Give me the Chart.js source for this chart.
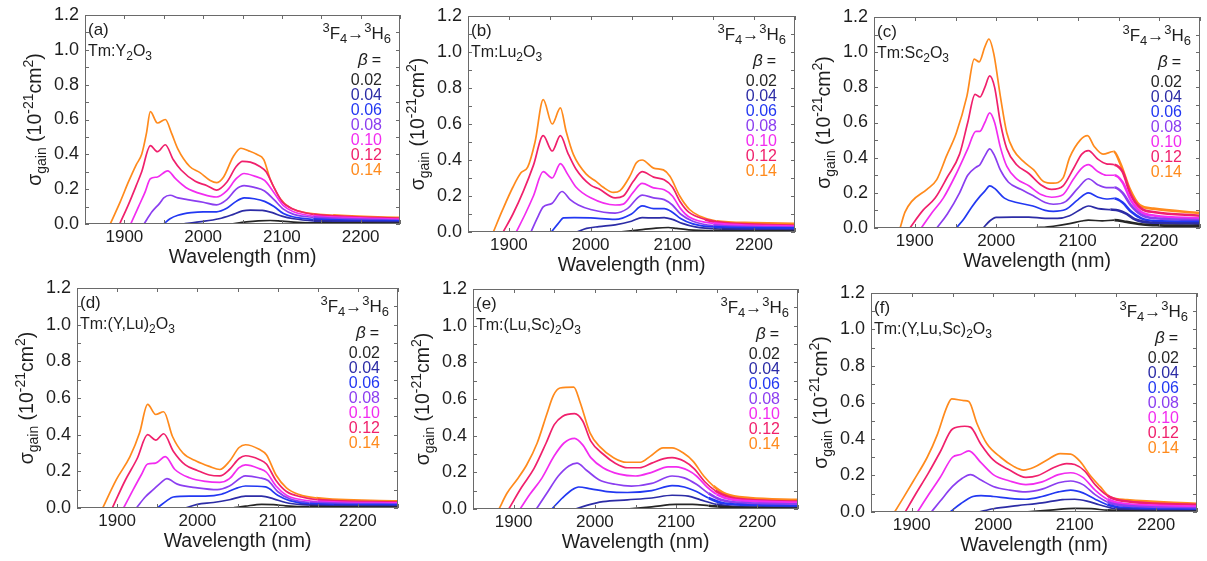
<!DOCTYPE html>
<html>
<head>
<meta charset="utf-8">
<script src="https://cdn.jsdelivr.net/npm/chart.js@4.4.1/dist/chart.umd.min.js"></script>
<style>
  html, body { margin: 0; padding: 0; background: #fff; }
  body { width: 1207px; height: 561px; position: relative; overflow: hidden; }
  canvas { position: absolute; }
</style>
</head>
<body>
<script>
// beta values shared by every panel
const betas = ['0.02', '0.04', '0.06', '0.08', '0.10', '0.12', '0.14'];
const tags = ['(a)', '(b)', '(c)', '(d)', '(e)', '(f)'];
const hosts = ['Tm:Y_{2}O_{3}', 'Tm:Lu_{2}O_{3}', 'Tm:Sc_{2}O_{3}',
  'Tm:(Y,Lu)_{2}O_{3}', 'Tm:(Lu,Sc)_{2}O_{3}', 'Tm:(Y,Lu,Sc)_{2}O_{3}'];
const xTicks = [1900, 2000, 2100, 2200];
const yTicks = [0, 0.2, 0.4, 0.6, 0.8, 1.0, 1.2];

// gain cross-sections [wavelength nm, sigma 1e-21 cm2], one list per beta (0.02 .. 0.14)
const gainY2O3 = [
  [[2035,0],[2055,0.012],[2070,0.018],[2085,0.02],[2100,0.016],[2120,0.01],[2150,0.006],[2200,0.004],[2250,0.003]],
  [[1975,0],[1990,0.01],[2000,0.015],[2020,0.03],[2035,0.05],[2050,0.075],[2060,0.08],[2075,0.078],[2088,0.065],[2100,0.045],[2115,0.03],[2140,0.018],[2180,0.013],[2250,0.01]],
  [[1950,0],[1958,0.03],[1968,0.05],[1985,0.065],[2000,0.07],[2017,0.07],[2030,0.09],[2042,0.13],[2052,0.15],[2065,0.145],[2078,0.13],[2090,0.1],[2102,0.06],[2115,0.04],[2140,0.027],[2180,0.02],[2250,0.015]],
  [[1925,0],[1935,0.07],[1945,0.12],[1950,0.15],[1958,0.165],[1968,0.15],[1980,0.14],[2000,0.125],[2017,0.11],[2030,0.14],[2042,0.2],[2052,0.22],[2065,0.21],[2078,0.19],[2090,0.14],[2102,0.085],[2115,0.055],[2140,0.038],[2180,0.028],[2250,0.02]],
  [[1908,0],[1918,0.1],[1926,0.18],[1933,0.26],[1942,0.27],[1955,0.305],[1965,0.26],[1978,0.21],[2000,0.17],[2017,0.155],[2030,0.19],[2042,0.26],[2052,0.29],[2065,0.275],[2078,0.25],[2090,0.18],[2102,0.105],[2115,0.07],[2140,0.045],[2180,0.035],[2250,0.025]],
  [[1894,0],[1905,0.11],[1915,0.22],[1922,0.3],[1933,0.45],[1942,0.415],[1952,0.455],[1962,0.37],[1972,0.31],[1990,0.245],[2005,0.22],[2017,0.195],[2030,0.24],[2042,0.33],[2050,0.36],[2060,0.355],[2072,0.33],[2080,0.3],[2090,0.21],[2100,0.13],[2115,0.085],[2140,0.055],[2180,0.042],[2250,0.03]],
  [[1882,0],[1895,0.13],[1905,0.24],[1915,0.34],[1922,0.4],[1928,0.52],[1933,0.645],[1942,0.58],[1952,0.6],[1960,0.52],[1968,0.43],[1983,0.33],[1996,0.295],[2009,0.25],[2017,0.237],[2026,0.27],[2038,0.385],[2048,0.435],[2058,0.42],[2068,0.4],[2077,0.37],[2085,0.26],[2098,0.145],[2110,0.095],[2125,0.07],[2165,0.05],[2250,0.035]]
];
const gainLu2O3 = [
  [[2035,0],[2060,0.012],[2080,0.022],[2095,0.025],[2105,0.02],[2120,0.012],[2150,0.006],[2200,0.004],[2250,0.003]],
  [[1983,0],[1995,0.02],[2010,0.03],[2030,0.04],[2050,0.06],[2063,0.08],[2078,0.078],[2090,0.08],[2100,0.07],[2112,0.048],[2128,0.028],[2160,0.016],[2250,0.01]],
  [[1952,0],[1960,0.045],[1967,0.078],[1980,0.08],[2000,0.078],[2030,0.07],[2050,0.1],[2063,0.145],[2077,0.13],[2090,0.13],[2100,0.11],[2110,0.075],[2125,0.045],[2150,0.028],[2250,0.02]],
  [[1927,0],[1935,0.08],[1942,0.14],[1953,0.16],[1965,0.225],[1975,0.18],[1985,0.15],[2000,0.125],[2030,0.105],[2045,0.13],[2063,0.205],[2077,0.19],[2090,0.18],[2100,0.15],[2110,0.1],[2125,0.06],[2150,0.036],[2250,0.025]],
  [[1909,0],[1920,0.1],[1930,0.2],[1942,0.335],[1953,0.3],[1963,0.38],[1972,0.32],[1982,0.25],[2000,0.19],[2030,0.15],[2040,0.155],[2052,0.22],[2063,0.27],[2077,0.245],[2090,0.235],[2100,0.2],[2110,0.13],[2120,0.085],[2150,0.048],[2250,0.03]],
  [[1893,0],[1905,0.1],[1918,0.23],[1930,0.37],[1942,0.535],[1953,0.45],[1963,0.535],[1972,0.44],[1982,0.35],[2000,0.26],[2010,0.24],[2030,0.19],[2040,0.2],[2052,0.28],[2063,0.335],[2077,0.305],[2090,0.29],[2100,0.25],[2110,0.165],[2120,0.11],[2140,0.07],[2160,0.052],[2250,0.035]],
  [[1881,0],[1892,0.12],[1905,0.25],[1915,0.33],[1923,0.36],[1932,0.5],[1942,0.735],[1953,0.6],[1963,0.69],[1970,0.56],[1979,0.43],[1995,0.32],[2007,0.28],[2015,0.25],[2028,0.22],[2036,0.23],[2048,0.31],[2056,0.385],[2063,0.4],[2077,0.355],[2089,0.345],[2097,0.31],[2109,0.2],[2121,0.125],[2134,0.087],[2154,0.06],[2200,0.05],[2250,0.045]]
];
const gainSc2O3 = [
  [[2046,0],[2070,0.01],[2090,0.025],[2105,0.04],[2113,0.045],[2130,0.04],[2145,0.045],[2160,0.035],[2180,0.02],[2200,0.015],[2250,0.012]],
  [[1984,0],[1992,0.04],[2000,0.06],[2020,0.062],[2040,0.062],[2060,0.055],[2075,0.055],[2090,0.07],[2105,0.11],[2113,0.125],[2125,0.11],[2140,0.105],[2150,0.1],[2160,0.08],[2170,0.05],[2190,0.03],[2250,0.025]],
  [[1951,0],[1960,0.05],[1970,0.12],[1980,0.18],[1986,0.21],[1992,0.24],[1998,0.225],[2010,0.17],[2025,0.145],[2045,0.125],[2060,0.1],[2070,0.095],[2085,0.105],[2100,0.16],[2113,0.2],[2125,0.175],[2135,0.165],[2145,0.168],[2155,0.145],[2165,0.095],[2178,0.055],[2195,0.04],[2250,0.035]],
  [[1927,0],[1940,0.08],[1955,0.2],[1965,0.3],[1975,0.345],[1980,0.36],[1986,0.41],[1992,0.45],[1998,0.41],[2005,0.33],[2015,0.26],[2030,0.22],[2045,0.185],[2060,0.145],[2070,0.135],[2085,0.15],[2100,0.225],[2113,0.28],[2125,0.245],[2135,0.23],[2145,0.23],[2155,0.2],[2165,0.13],[2178,0.075],[2195,0.055],[2250,0.045]],
  [[1908,0],[1920,0.08],[1935,0.17],[1950,0.3],[1965,0.45],[1975,0.55],[1980,0.55],[1986,0.6],[1992,0.655],[1998,0.6],[2005,0.46],[2013,0.35],[2025,0.28],[2040,0.24],[2055,0.19],[2068,0.175],[2082,0.19],[2095,0.28],[2105,0.34],[2113,0.36],[2125,0.32],[2135,0.3],[2145,0.3],[2155,0.26],[2165,0.16],[2178,0.09],[2195,0.07],[2250,0.055]],
  [[1894,0],[1910,0.1],[1925,0.17],[1940,0.29],[1955,0.42],[1965,0.6],[1974,0.76],[1980,0.745],[1986,0.8],[1992,0.865],[1998,0.8],[2005,0.6],[2013,0.45],[2025,0.36],[2040,0.31],[2055,0.245],[2068,0.22],[2082,0.24],[2095,0.34],[2105,0.42],[2113,0.44],[2125,0.39],[2135,0.365],[2145,0.36],[2155,0.32],[2165,0.19],[2178,0.11],[2195,0.09],[2250,0.07]],
  [[1882,0],[1888,0.09],[1896,0.15],[1915,0.22],[1927,0.275],[1939,0.41],[1951,0.54],[1964,0.75],[1973,0.96],[1979,0.945],[1986,1.03],[1991,1.075],[1997,0.99],[2005,0.75],[2013,0.54],[2021,0.445],[2033,0.38],[2046,0.33],[2058,0.265],[2070,0.255],[2082,0.285],[2090,0.4],[2103,0.5],[2112,0.525],[2120,0.465],[2131,0.42],[2144,0.435],[2152,0.37],[2164,0.22],[2176,0.13],[2193,0.11],[2250,0.085]]
];
const gainYLu = [
  [[2044,0],[2060,0.01],[2080,0.02],[2095,0.018],[2110,0.012],[2140,0.006],[2250,0.002]],
  [[1985,0],[2000,0.02],[2020,0.03],[2040,0.045],[2060,0.065],[2080,0.065],[2095,0.05],[2110,0.03],[2130,0.018],[2170,0.012],[2250,0.008]],
  [[1950,0],[1962,0.04],[1970,0.06],[1990,0.065],[2010,0.065],[2030,0.075],[2050,0.11],[2060,0.12],[2085,0.115],[2100,0.07],[2115,0.04],[2140,0.022],[2250,0.015]],
  [[1924,0],[1935,0.06],[1945,0.1],[1955,0.14],[1962,0.16],[1975,0.13],[2000,0.11],[2025,0.1],[2040,0.12],[2060,0.175],[2077,0.165],[2088,0.15],[2100,0.09],[2115,0.05],[2140,0.03],[2250,0.02]],
  [[1908,0],[1920,0.1],[1930,0.18],[1938,0.24],[1948,0.245],[1960,0.28],[1972,0.21],[1990,0.165],[2010,0.145],[2028,0.14],[2040,0.16],[2052,0.22],[2060,0.235],[2077,0.215],[2086,0.195],[2098,0.12],[2111,0.07],[2130,0.045],[2150,0.035],[2250,0.025]],
  [[1894,0],[1910,0.15],[1925,0.27],[1938,0.4],[1948,0.37],[1958,0.405],[1970,0.31],[1985,0.235],[2000,0.205],[2015,0.18],[2028,0.175],[2040,0.21],[2052,0.27],[2060,0.285],[2077,0.265],[2086,0.24],[2098,0.15],[2111,0.09],[2130,0.06],[2150,0.045],[2250,0.03]],
  [[1882,0],[1899,0.155],[1916,0.28],[1928,0.41],[1938,0.565],[1948,0.51],[1958,0.525],[1969,0.39],[1982,0.3],[1999,0.255],[2015,0.227],[2028,0.21],[2040,0.255],[2052,0.33],[2060,0.345],[2077,0.32],[2086,0.29],[2098,0.18],[2111,0.11],[2127,0.073],[2148,0.055],[2250,0.036]]
];
const gainLuSc = [
  [[2039,0],[2070,0.012],[2100,0.025],[2120,0.025],[2140,0.018],[2160,0.01],[2250,0.003]],
  [[1976,0],[1990,0.02],[2010,0.04],[2040,0.05],[2070,0.06],[2095,0.075],[2115,0.07],[2130,0.05],[2150,0.025],[2170,0.012],[2250,0.005]],
  [[1947,0],[1960,0.06],[1972,0.105],[1980,0.12],[1995,0.11],[2015,0.095],[2040,0.09],[2070,0.1],[2095,0.128],[2110,0.12],[2125,0.095],[2140,0.06],[2160,0.03],[2250,0.015]],
  [[1928,0],[1940,0.08],[1955,0.18],[1968,0.235],[1978,0.25],[1990,0.21],[2005,0.16],[2025,0.135],[2045,0.125],[2070,0.14],[2095,0.18],[2110,0.17],[2125,0.135],[2140,0.085],[2155,0.05],[2175,0.035],[2250,0.025]],
  [[1908,0],[1920,0.08],[1935,0.17],[1950,0.29],[1962,0.36],[1975,0.385],[1985,0.35],[1995,0.28],[2010,0.225],[2030,0.19],[2050,0.18],[2070,0.2],[2090,0.23],[2100,0.23],[2115,0.21],[2125,0.18],[2138,0.12],[2150,0.08],[2170,0.05],[2250,0.035]],
  [[1894,0],[1910,0.12],[1925,0.22],[1940,0.36],[1950,0.46],[1960,0.505],[1975,0.52],[1985,0.48],[1995,0.37],[2010,0.3],[2025,0.25],[2040,0.225],[2055,0.225],[2070,0.25],[2085,0.275],[2095,0.28],[2110,0.26],[2122,0.22],[2135,0.15],[2148,0.1],[2165,0.065],[2190,0.05],[2250,0.04]],
  [[1882,0],[1892,0.087],[1904,0.16],[1916,0.24],[1929,0.36],[1941,0.52],[1949,0.62],[1957,0.66],[1974,0.665],[1982,0.58],[1994,0.415],[2006,0.34],[2023,0.28],[2039,0.255],[2056,0.255],[2068,0.287],[2084,0.333],[2095,0.333],[2109,0.305],[2121,0.26],[2134,0.18],[2146,0.125],[2162,0.08],[2191,0.06],[2250,0.05]]
];
const gainYLuSc = [
  [[2039,0],[2070,0.01],[2100,0.02],[2120,0.018],[2140,0.01],[2170,0.004],[2250,0.002]],
  [[1982,0],[2000,0.018],[2030,0.035],[2060,0.05],[2085,0.068],[2100,0.07],[2115,0.06],[2130,0.04],[2150,0.018],[2250,0.005]],
  [[1947,0],[1960,0.045],[1975,0.085],[1985,0.09],[2000,0.085],[2020,0.075],[2040,0.07],[2060,0.085],[2080,0.11],[2095,0.12],[2110,0.105],[2125,0.07],[2140,0.04],[2160,0.022],[2250,0.012]],
  [[1924,0],[1935,0.06],[1950,0.14],[1962,0.185],[1972,0.205],[1985,0.175],[2000,0.14],[2020,0.12],[2040,0.11],[2060,0.125],[2080,0.16],[2095,0.17],[2110,0.15],[2125,0.095],[2140,0.055],[2160,0.035],[2250,0.02]],
  [[1907,0],[1920,0.09],[1935,0.19],[1950,0.3],[1960,0.315],[1970,0.335],[1985,0.27],[2000,0.205],[2020,0.17],[2040,0.15],[2060,0.165],[2080,0.205],[2095,0.215],[2110,0.19],[2125,0.12],[2140,0.07],[2160,0.045],[2250,0.03]],
  [[1892,0],[1905,0.1],[1920,0.21],[1935,0.33],[1950,0.455],[1965,0.47],[1972,0.465],[1985,0.37],[2000,0.285],[2020,0.23],[2040,0.19],[2055,0.2],[2075,0.245],[2090,0.265],[2100,0.26],[2112,0.225],[2125,0.15],[2140,0.09],[2160,0.06],[2250,0.04]],
  [[1879,0],[1890,0.08],[1902,0.17],[1919,0.3],[1931,0.42],[1943,0.575],[1949,0.62],[1964,0.61],[1970,0.605],[1980,0.485],[1992,0.375],[2009,0.3],[2025,0.25],[2037,0.23],[2050,0.245],[2066,0.285],[2082,0.32],[2095,0.317],[2107,0.275],[2119,0.2],[2131,0.14],[2144,0.08],[2164,0.065],[2250,0.045]]
];
const panelData = [gainY2O3, gainLu2O3, gainSc2O3, gainYLu, gainLuSc, gainYLuSc];

// line colours, black -> orange with increasing beta
const colors = ['#262626', '#2c2ca6', '#2238f2', '#8b3ef0', '#f22cf0', '#f0206c', '#ff8a1c'];

// plot frames on the page (left, top, right, bottom)
const frames = [
  [85, 15, 400, 224], [468, 16, 795, 232], [874, 17, 1200, 228],
  [77, 288, 398, 508], [473, 289, 798, 509], [871, 293, 1197, 512]
];

const FONT = '"Liberation Sans", Arial, sans-serif';
const PAD_L = 90, PAD_T = 10, PAD_R = 8, PAD_B = 50;

// tiny markup: _{..} subscript, ^{..} superscript
function parseRich(str) {
  const out = [];
  const re = /([_^])\{([^}]*)\}|([^_^]+)/g;
  let m;
  while ((m = re.exec(str))) {
    if (m[3]) out.push({ t: m[3], k: 0 });
    else out.push({ t: m[2], k: m[1] === '^' ? 1 : -1 });
  }
  return out;
}

function drawRich(ctx, str, x, y, size, align) {
  const segs = parseRich(str);
  const small = Math.round(size * 0.74);
  let w = 0;
  segs.forEach(s => {
    ctx.font = `${s.k ? small : size}px ${FONT}`;
    s.w = ctx.measureText(s.t).width;
    w += s.w;
  });
  let cx = align === 'right' ? x - w : align === 'center' ? x - w / 2 : x;
  ctx.textAlign = 'left';
  ctx.textBaseline = 'alphabetic';
  segs.forEach(s => {
    ctx.font = `${s.k ? small : size}px ${FONT}`;
    const dy = s.k === 1 ? -size * 0.4 : s.k === -1 ? size * 0.25 : 0;
    ctx.fillText(s.t, cx, y + dy);
    cx += s.w;
  });
}

function decorPlugin(idx) {
  return {
    id: 'decor' + idx,
    afterDraw(chart) {
      const { ctx, chartArea: a, scales: { x, y } } = chart;
      ctx.save();

      // frame with inward ticks
      ctx.strokeStyle = '#6a6a6a';
      ctx.lineWidth = 1;
      ctx.strokeRect(a.left + 0.5, a.top + 0.5, a.right - a.left - 1, a.bottom - a.top - 1);
      ctx.beginPath();
      for (let w = 1850; w <= 2250; w += 50) {
        const px = Math.round(x.getPixelForValue(w)) + 0.5;
        ctx.moveTo(px, a.bottom); ctx.lineTo(px, a.bottom - 4);
        ctx.moveTo(px, a.top); ctx.lineTo(px, a.top + 4);
      }
      for (let k = 0; k <= 12; k++) {
        const py = Math.round(y.getPixelForValue(k / 10)) + 0.5;
        ctx.moveTo(a.left, py); ctx.lineTo(a.left + 4, py);
        ctx.moveTo(a.right, py); ctx.lineTo(a.right - 4, py);
      }
      ctx.stroke();

      // tick labels
      ctx.fillStyle = '#1e1e1e';
      ctx.font = `17px ${FONT}`;
      ctx.textAlign = 'center';
      ctx.textBaseline = 'middle';
      xTicks.forEach(v => ctx.fillText(String(v), x.getPixelForValue(v), a.bottom + 13));
      ctx.font = `18px ${FONT}`;
      ctx.textAlign = 'right';
      yTicks.forEach(v => ctx.fillText(v.toFixed(1), a.left - 6, y.getPixelForValue(v)));

      // axis titles
      drawRich(ctx, 'Wavelength (nm)', (a.left + a.right) / 2, a.bottom + 39, 19.5, 'center');
      ctx.save();
      ctx.translate(a.left - 51, (a.top + a.bottom) / 2);
      ctx.rotate(-Math.PI / 2);
      drawRich(ctx, 'σ_{gain} (10^{-21}cm^{2})', 0, 7, 19.5, 'center');
      ctx.restore();

      // panel tag and host
      drawRich(ctx, tags[idx], a.left + 3, a.top + 20, 17, 'left');
      drawRich(ctx, hosts[idx], a.left + 3, a.top + 41, 16, 'left');

      // transition and beta list
      drawRich(ctx, '^{3}F_{4}→^{3}H_{6}', a.right - 9, a.top + 24, 17, 'right');
      ctx.font = `16px ${FONT}`;
      ctx.textAlign = 'right';
      ctx.textBaseline = 'alphabetic';
      const eqW = ctx.measureText('=').width;
      ctx.fillText('=', a.right - 19, a.top + 50);
      ctx.font = `italic 17px ${FONT}`;
      ctx.fillText('β', a.right - 23 - eqW, a.top + 50);
      ctx.font = `16px ${FONT}`;
      betas.forEach((b, i) => {
        ctx.fillStyle = colors[i];
        ctx.fillText(b, a.right - 18, a.top + 70 + i * 15);
      });
      ctx.restore();
    }
  };
}

frames.forEach((f, idx) => {
  const [l, t, r, b] = f;
  const canvas = document.createElement('canvas');
  canvas.width = r - l + PAD_L + PAD_R;
  canvas.height = b - t + PAD_T + PAD_B;
  canvas.style.left = (l - PAD_L) + 'px';
  canvas.style.top = (t - PAD_T) + 'px';
  document.body.appendChild(canvas);

  new Chart(canvas, {
    type: 'line',
    data: {
      datasets: panelData[idx].map((pts, i) => ({
        label: betas[i],
        data: pts.map(([w, s]) => ({ x: w, y: s })),
        borderColor: colors[i],
        borderWidth: 1.7,
        pointRadius: 0,
        fill: false,
        cubicInterpolationMode: 'monotone',
        // long-wavelength tails are noisy, drawn as a heavier band
        segment: { borderWidth: c => (c.p0.parsed.x >= 2140 ? 2.6 : 1.7) }
      }))
    },
    options: {
      responsive: false,
      animation: false,
      events: [],
      layout: { padding: { top: PAD_T, right: PAD_R, left: 0, bottom: 0 } },
      plugins: { legend: { display: false }, tooltip: { enabled: false } },
      scales: {
        x: {
          type: 'linear', min: 1850, max: 2250,
          grid: { display: false, drawTicks: false },
          border: { display: false },
          ticks: { display: false },
          afterFit: s => { s.height = PAD_B; }
        },
        y: {
          min: 0, max: 1.2,
          grid: { display: false, drawTicks: false },
          border: { display: false },
          ticks: { display: false },
          afterFit: s => { s.width = PAD_L; }
        }
      }
    },
    plugins: [decorPlugin(idx)]
  });
});
</script>
</body>
</html>
